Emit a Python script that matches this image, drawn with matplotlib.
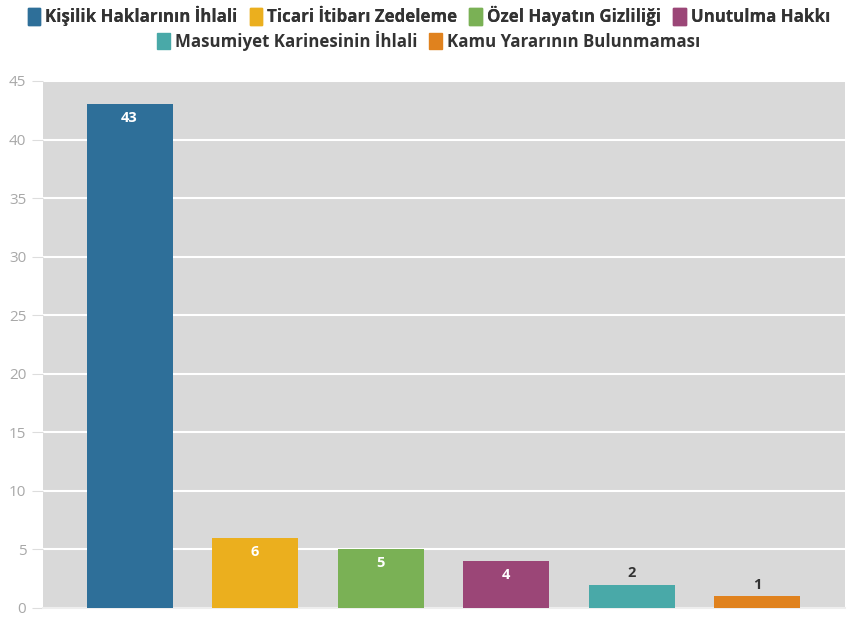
import matplotlib
matplotlib.use('Agg')
import matplotlib.pyplot as plt
from matplotlib.patches import Patch

# Data
categories = ['Kişilik Haklarının İhlali', 'Ticari İtibarı Zedeleme', 'Özel Hayatın Gizliliği',
              'Unutulma Hakkı', 'Masumiyet Karinesinin İhlali', 'Kamu Yararının Bulunmaması']
values = [43, 6, 5, 4, 2, 1]
colors = ['#2e6f99', '#ebaf1e', '#7ab155', '#9b4677', '#49a9a8', '#e0821e']
y_ticks = [0, 5, 10, 15, 20, 25, 30, 35, 40, 45]

plt.rcParams['font.family'] = ['Open Sans', 'DejaVu Sans']

fig = plt.figure(figsize=(8.51, 6.21), dpi=100)
ax = fig.add_axes([0.0505, 0.021, 0.9425, 0.8486])
ax.set_facecolor('#d9d9d9')

x = list(range(len(values)))
bars = ax.bar(x, values, width=0.685, color=colors, zorder=3)

ax.set_xlim(-0.69, 5.7)
ax.set_ylim(0, 45)
ax.set_yticks(y_ticks)
ax.set_xticks([])
ax.grid(axis='y', color='white', linewidth=1.5, zorder=1)
for s in ['top', 'right', 'left']:
    ax.spines[s].set_visible(False)
ax.spines['bottom'].set_color('#eeeeee')
ax.spines['bottom'].set_linewidth(1.5)
ax.tick_params(axis='y', length=8, color='#dddddd', labelcolor='#a8a8a8', labelsize=11, pad=4)

# Value labels
for xi, v in zip(x, values):
    if v >= 4:
        ax.text(xi, v - 1.2, str(v), ha='center', va='center', color='white',
                fontsize=10.5, fontweight='bold', zorder=4)
    else:
        ax.text(xi, v + 1.0, str(v), ha='center', va='center', color='#333333',
                fontsize=10.5, fontweight='bold', zorder=4)

# Legend in two centred rows
handles = [Patch(facecolor=c, edgecolor=c, label=l) for c, l in zip(colors, categories)]
leg_kw = dict(loc='center', frameon=False, handlelength=0.75, handleheight=1.1,
              handletextpad=0.3, columnspacing=0.7, prop={'weight': 'bold', 'size': 12.2})
leg1 = fig.legend(handles=handles[:4], bbox_to_anchor=(0.504, 0.974), ncol=4, **leg_kw)
for t in leg1.get_texts():
    t.set_color('#333333')
leg2 = fig.legend(handles=handles[4:], bbox_to_anchor=(0.504, 0.934), ncol=2, **leg_kw)
for t in leg2.get_texts():
    t.set_color('#333333')
fig.add_artist(leg1)

fig.savefig('out.png', dpi=100)
